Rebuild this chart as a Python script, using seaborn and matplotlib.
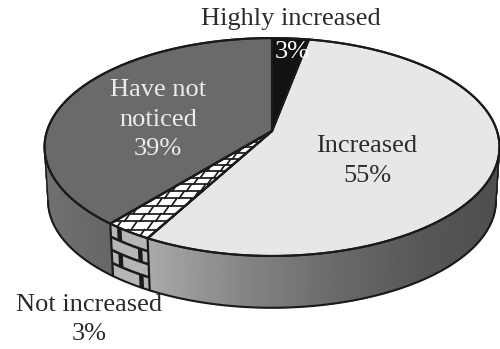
import numpy as np
import seaborn as sns
import matplotlib
matplotlib.use("Agg")
import matplotlib.pyplot as plt
from matplotlib.patches import Polygon

# Survey shares, clockwise from twelve o'clock
categories = ["Highly increased", "Increased", "Not increased", "Have not noticed"]
shares = [3, 55, 3, 39]
top_colors = ["#121212", "#e6e7e9", "#ffffff", "#6a6a6c"]

sns.set_theme(style="white")
plt.rcParams["font.family"] = ["Liberation Serif", "DejaVu Serif"]

fig = plt.figure(figsize=(5.0, 3.49), dpi=100, facecolor="white")
ax = fig.add_axes([0, 0, 1, 1])
ax.set_xlim(0, 500)
ax.set_ylim(349, 0)
ax.axis("off")

# Camera for the tilted disc
CX, CY, RX, RY, PERSP = 272.0, 131.0, 225.0, 106.6, 0.147
BASE_R, DROP = 0.985, 54.0
SILHOUETTE = 8.5  # degrees below horizontal where the rim is widest
LINE = "#1a1a1a"


def project(theta_deg, r=1.0, drop=0.0):
    t = np.radians(theta_deg)
    u, v = r * np.cos(t), r * np.sin(t)
    w = 1 + PERSP * v
    return CX + RX * u / w, CY - RY * v / w + drop


def wall_point(theta_deg, frac):
    """Point on the outer wall; frac runs from the top rim (0) to the base (1)."""
    xa, ya = project(theta_deg)
    xb, yb = project(theta_deg, BASE_R, DROP)
    return xa + (xb - xa) * frac, ya + (yb - ya) * frac


# Wedge boundaries in degrees, running clockwise from the top
edges = 90 - 360 * np.cumsum([0] + shares) / sum(shares)
spans = list(zip(edges[:-1], edges[1:]))
hi_span, inc_span, brick_span, none_span = spans


def wall_strip(a0, a1, colors):
    """Outer wall between two angles, shaded through a colour ramp."""
    angles = np.linspace(a0, a1, len(colors) + 1)
    for i, col in enumerate(colors):
        seg = np.linspace(angles[i], angles[i + 1], 4)
        xa, ya = wall_point(seg, 0)
        xb, yb = wall_point(seg, 1)
        ax.fill(np.r_[xa, xb[::-1]], np.r_[ya, yb[::-1]],
                facecolor=col, edgecolor=col, lw=0.9, zorder=2)


# Right-hand wall: pale beside the brick wedge, darkening towards the far edge
inc_ramp = sns.blend_palette(["#4e4e50", "#505052", "#565658", "#68686a", "#858587", "#a9a9ab"], 120)
wall_strip(-SILHOUETTE, inc_span[1], inc_ramp)
left_ramp = sns.blend_palette(["#666668", "#6e6e70", "#727274"], 40)
wall_strip(brick_span[1], -180 + SILHOUETTE, left_ramp)

# Brick courses on the side of the small wedge
wall_strip(brick_span[0], brick_span[1], ["#b6b6b8"] * 8)
seg = np.linspace(*brick_span, 12)
xa, ya = wall_point(seg, 0)
xb, yb = wall_point(seg, 1)
wall_clip = Polygon(np.c_[np.r_[xa, xb[::-1]], np.r_[ya, yb[::-1]]],
                    transform=ax.transData, fc="none", ec="none")
ax.add_patch(wall_clip)
COURSES = 4
for frac in np.linspace(0, 1, COURSES + 1)[1:-1]:
    x, y = wall_point(seg, frac)
    ax.plot(x, y, color=LINE, lw=1.8, zorder=3, clip_path=wall_clip)
for row in range(COURSES):
    off = 0.74 if row % 2 == 0 else 0.2
    a = brick_span[0] + off * (brick_span[1] - brick_span[0])
    x0, y0 = wall_point(a, row / COURSES)
    x1, y1 = wall_point(a, (row + 1) / COURSES)
    ax.plot([x0, x1], [y0, y1], color=LINE, lw=3.2, zorder=3,
            solid_capstyle="butt", clip_path=wall_clip)

# Top faces
for span, col in zip(spans, top_colors):
    seg = np.linspace(span[0], span[1], 120)
    x, y = project(seg)
    ax.fill(np.r_[CX, x], np.r_[CY, y], facecolor=col, edgecolor=LINE,
            lw=1.5, joinstyle="round", zorder=4)

# Brick pattern on the top of the small wedge, courses shrinking towards the apex
seg = np.linspace(*brick_span, 40)
x, y = project(seg)
top_clip = Polygon(np.c_[np.r_[CX, x], np.r_[CY, y]], transform=ax.transData, fc="none", ec="none")
ax.add_patch(top_clip)
course_y, course_x = 238.0, 57.0
while course_y > CY:
    depth = (course_y - CY) / 100.0
    h = 5.0 + 3.2 * depth
    brick = 16.0 * (0.72 + 0.28 * depth)
    top = course_y - h
    ax.plot([0, 500], [top, top], color=LINE, lw=1.25, zorder=5, clip_path=top_clip)
    for n in range(0, 22):
        jx = course_x + n * brick
        ax.plot([jx, jx + 0.7 * h], [course_y, top], color=LINE, lw=1.25, zorder=5, clip_path=top_clip)
    course_x += 1.25 * h
    course_y = top

# Re-stroke the rims over the pattern
for span in spans:
    seg = np.linspace(span[0], span[1], 120)
    x, y = project(seg)
    ax.plot(np.r_[CX, x, CX], np.r_[CY, y, CY], color=LINE, lw=1.5, zorder=6)
seg = np.linspace(-SILHOUETTE, -180 + SILHOUETTE, 200)
x, y = wall_point(seg, 1)
ax.plot(x, y, color=LINE, lw=1.5, zorder=6)
for a in (-SILHOUETTE, -180 + SILHOUETTE):
    x, y = wall_point(np.array([a, a]), np.array([0, 1]))
    ax.plot(x, y, color=LINE, lw=1.0, zorder=6)
for a in (inc_span[1], brick_span[1]):
    x, y = wall_point(np.array([a, a]), np.array([0, 1]))
    ax.plot(x, y, color=LINE, lw=1.6, zorder=6)

# Labels
INK = "#2b2b2d"
FS = 19
ax.text(291, 19, categories[0], ha="center", va="center", fontsize=FS, color=INK, zorder=7)
ax.text(292, 52, f"{shares[0]}%", ha="center", va="center", fontsize=FS, color="white", zorder=7)
ax.text(367, 161, f"{categories[1]}\n{shares[1]}%", ha="center", va="center", fontsize=FS,
        color=INK, linespacing=1.42, zorder=7)
ax.text(158, 119.5, f"Have not\nnoticed\n{shares[3]}%", ha="center", va="center", fontsize=FS,
        color="#ececee", linespacing=1.42, zorder=7)
ax.text(89, 319.5, f"{categories[2]}\n{shares[2]}%", ha="center", va="center", fontsize=FS,
        color=INK, linespacing=1.38, zorder=7)

fig.savefig("out.png", dpi=100, facecolor="white")
